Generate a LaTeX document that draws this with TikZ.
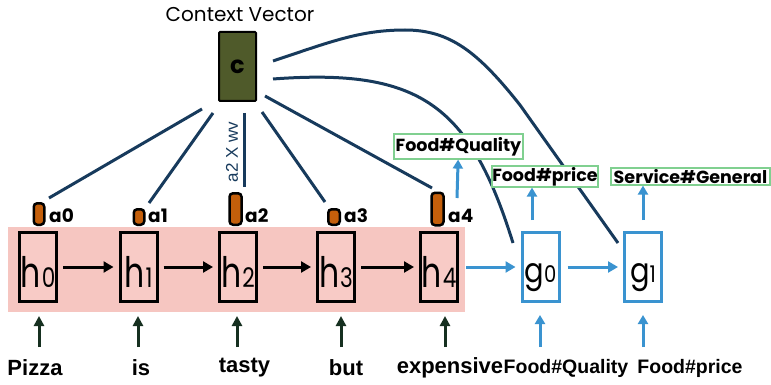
\documentclass[tikz,border=0pt]{standalone}
\usepackage{fontspec}
\setmainfont{Poppins}
\newfontfamily\arialfont{Liberation Sans}
\usetikzlibrary{arrows.meta}

\definecolor{bandpink}{HTML}{F6C6C1}
\definecolor{boxpink}{HTML}{F8CBC6}
\definecolor{attn}{HTML}{C45F0B}
\definecolor{ctxolive}{HTML}{4F5A2A}
\definecolor{navy}{HTML}{173A5C}
\definecolor{decblue}{HTML}{3A93D0}
\definecolor{tagedge}{HTML}{80D090}
\definecolor{inarrow}{HTML}{163020}

% state label: letter with a large digit set beside it
\newcommand\hlab[2]{\scalebox{0.75}[1]{\fontsize{42}{42}\selectfont #1}\kern1pt\scalebox{0.8}[1]{\fontsize{27}{27}\selectfont #2}}
\newcommand\glab[2]{\scalebox{0.85}[1]{\fontsize{34}{34}\selectfont #1}\scalebox{0.85}[1]{\fontsize{23}{23}\selectfont #2}}

\begin{document}
\begin{tikzpicture}[x=1pt,y=-1pt,
  hbox/.style={draw=black,line width=3pt,fill=boxpink,inner sep=0pt,
    minimum width=37pt,minimum height=69pt},
  gbox/.style={draw=decblue,line width=3pt,fill=white,inner sep=0pt,
    minimum width=37pt,minimum height=69pt},
  abox/.style={draw=black,line width=2.5pt,fill=attn,rounded corners=3.5pt,
    inner sep=0pt,minimum width=10.5pt},
  alab/.style={anchor=west,inner sep=0pt,font=\fontsize{18.5}{18.5}\selectfont\bfseries},
  ctxbox/.style={draw=black,line width=2pt,fill=ctxolive,rounded corners=1pt,
    inner sep=0pt,minimum width=37pt,minimum height=69pt,
    font=\fontsize{24}{24}\selectfont\bfseries},
  tag/.style={draw=tagedge,line width=1.2pt,fill=white,inner sep=0pt,
    font=\fontsize{17.5}{17.5}\selectfont\bfseries},
  word/.style={inner sep=0pt,font=\arialfont\fontsize{22}{22}\selectfont\bfseries},
  tagword/.style={inner sep=0pt,font=\arialfont\fontsize{19.5}{19.5}\selectfont\bfseries},
  attline/.style={draw=navy,line width=3pt},
  encarrow/.style={draw=black,line width=3pt,shorten <=5pt,shorten >=5pt,
    -{Triangle[length=10pt,width=11pt]}},
  decarrow/.style={draw=decblue,line width=3pt,-{Triangle[length=10pt,width=11pt]}},
  inarr/.style={draw=inarrow,line width=3pt,-{Triangle[length=10pt,width=10pt]}},
  upblue/.style={draw=decblue,line width=3pt,-{Triangle[length=9pt,width=10pt]}}
]
\useasboundingbox (0,0) rectangle (771,385);

% encoder background band
\fill[bandpink] (8,227) rectangle (465,312);

% context vector
\node[inner sep=0pt,font=\fontsize{20}{20}\selectfont] (ctitle) at (240,15) {Context Vector};
\node[ctxbox] (c) at (237.5,66.5) {c};

% encoder states
\node[hbox] (h0) at (38,267) {};
\node[hbox] (h1) at (138.5,267) {};
\node[hbox] (h2) at (238,267) {};
\node[hbox] (h3) at (336,267) {};
\node[hbox] (h4) at (439,267) {};
\node[anchor=base,inner sep=0pt] (h0t) at (38,287) {\hlab{h}{0}};
\node[anchor=base,inner sep=0pt] (h1t) at (138.5,287) {\hlab{h}{1}};
\node[anchor=base,inner sep=0pt] (h2t) at (238,287) {\hlab{h}{2}};
\node[anchor=base,inner sep=0pt] (h3t) at (336,287) {\hlab{h}{3}};
\node[anchor=base,inner sep=0pt] (h4t) at (439,287) {\hlab{h}{4}};

% decoder states
\node[gbox] (g0) at (540.5,267) {};
\node[gbox] (g1) at (643,267) {};
\node[anchor=base,inner sep=0pt] (g0t) at (540.5,282) {\glab{g}{0}};
\node[anchor=base,inner sep=0pt] (g1t) at (643,282) {\glab{g}{1}};

% attention weights
\node[abox,minimum height=21.5pt] (a0) at (39,214) {};
\node[abox,minimum height=15.5pt] (a1) at (139,217) {};
\node[abox,minimum height=31.5pt,minimum width=12pt] (a2) at (235.5,209) {};
\node[abox,minimum height=15.5pt,minimum width=11.5pt] (a3) at (334,217) {};
\node[abox,minimum height=32.5pt,minimum width=12pt] (a4) at (437.5,209) {};
\node[alab] (a0t) at (49,216) {a0};
\node[alab] (a1t) at (148,216) {a1};
\node[alab] (a2t) at (245,216) {a2};
\node[alab] (a3t) at (344,216) {a3};
\node[alab] (a4t) at (448,216) {a4};

% attention lines from the context vector
\coordinate (s0) at (202,109);
\coordinate (s1) at (213,113);
\coordinate (s2) at (244,113);
\coordinate (s3) at (262,112);
\coordinate (s4) at (265,96);
\coordinate (e0) at (49,198);
\coordinate (e1) at (149,203);
\coordinate (e2) at (244,187);
\coordinate (e3) at (325,202);
\coordinate (e4) at (432,188);
\draw[attline] (s0) -- (e0);
\draw[attline] (s1) -- (e1);
\draw[attline] (s2) -- (e2);
\draw[attline] (s3) -- (e3);
\draw[attline] (s4) -- (e4);
\node[rotate=90,inner sep=0pt,text=navy,font=\arialfont\fontsize{17}{17}\selectfont] (wv) at (232,152) {a2 X wv};

% context to decoder
\coordinate (cu) at (273,61);
\coordinate (cl) at (273,79);
\coordinate (g0in) at (513,243);
\coordinate (g1in) at (618,243);
\draw[attline] (cu) .. controls (330,42) and (360,30) .. (405,30)
  .. controls (450,30) and (478,52) .. (520,105) -- (g1in);
\draw[attline] (cl) .. controls (420,68) and (470,105) .. (g0in);

% recurrent connections
\draw[encarrow] (h0) -- (h1);
\draw[encarrow] (h1) -- (h2);
\draw[encarrow] (h2) -- (h3);
\draw[encarrow] (h3) -- (h4);
\draw[decarrow, shorten <=7pt, shorten >=5pt] (h4) -- (g0);
\draw[decarrow, shorten <=7pt, shorten >=5pt] (g0) -- (g1);

% predicted aspect tags
\node[tag,minimum width=129pt,minimum height=25pt] (t0) at (458.5,146.5) {Food\#Quality};
\node[tag,minimum width=106pt,minimum height=21pt] (t1) at (545,176.5) {Food\#price};
\node[tag,minimum width=159pt,minimum height=17pt] (t2) at (690.5,176.5) {Service\#General};
\coordinate (q0) at (457,198);
\coordinate (p0) at (532,220);
\coordinate (p1) at (643,220);
\draw[upblue] (q0) -- (t0);
\draw[upblue] (p0) -- (t1.south -| p0);
\draw[upblue] (p1) -- (t2.south -| p1);

% inputs
\node[word] (w0) at (35,368) {Pizza};
\node[word] (w1) at (141,368) {is};
\node[word] (w2) at (244.5,368) {tasty};
\node[word] (w3) at (346,368) {but};
\node[word] (w4) at (450,368) {expensive};
\node[tagword] (w5) at (566,368) {Food\#Quality};
\node[tagword] (w6) at (690,368) {Food\#price};
\coordinate (i0) at (39,347);
\coordinate (i1) at (138,347);
\coordinate (i2) at (237,347);
\coordinate (i3) at (341,347);
\coordinate (i4) at (445,347);
\coordinate (i5) at (540,347);
\coordinate (i6) at (643,347);
\draw[inarr] (i0) -- (i0 |- 0,316);
\draw[inarr] (i1) -- (i1 |- 0,316);
\draw[inarr] (i2) -- (i2 |- 0,316);
\draw[inarr] (i3) -- (i3 |- 0,316);
\draw[inarr] (i4) -- (i4 |- 0,316);
\draw[upblue] (i5) -- (i5 |- 0,315);
\draw[upblue] (i6) -- (i6 |- 0,315);
\end{tikzpicture}
\end{document}
